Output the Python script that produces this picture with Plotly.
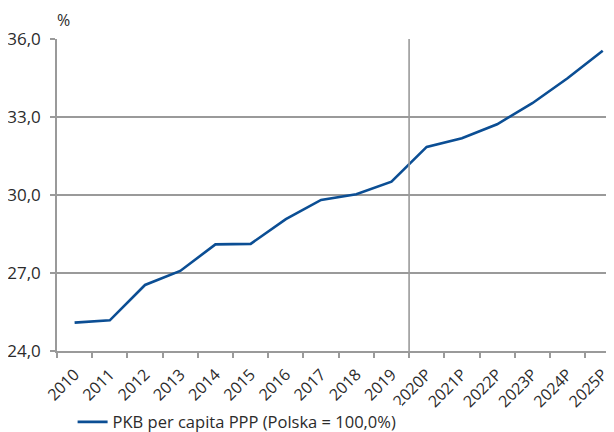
import plotly.graph_objects as go

years = ["2010", "2011", "2012", "2013", "2014", "2015", "2016", "2017",
         "2018", "2019", "2020P", "2021P", "2022P", "2023P", "2024P", "2025P"]
gdp_pc_ppp = [25.09, 25.18, 26.54, 27.08, 28.10, 28.12, 29.07, 29.81,
              30.03, 30.51, 31.85, 32.18, 32.72, 33.53, 34.49, 35.55]
series_name = "PKB per capita PPP (Polska = 100,0%)"
y_ticks = [24.0, 27.0, 30.0, 33.0, 36.0]
y_ticktext = ["24,0", "27,0", "30,0", "33,0", "36,0"]
forecast_start = "2020P"

FONT = "Open Sans"
GRID = "#9a9a9a"
TEXT = "#2b2b2b"

fig = go.Figure()
fig.add_trace(go.Scatter(
    x=years, y=gdp_pc_ppp, mode="lines", name=series_name,
    line=dict(color="#0b4e94", width=2.6),
))

split = years.index(forecast_start) - 0.5
fig.add_shape(type="line", xref="x", yref="y", x0=split, x1=split,
              y0=24.0, y1=36.1, line=dict(color=GRID, width=1.6), layer="above")

fig.add_annotation(text="%", xref="paper", yref="paper", x=0.011, y=1.02,
                   xanchor="center", yanchor="bottom", showarrow=False,
                   font=dict(family=FONT, size=16, color=TEXT))

# page body has an 8px default margin; size the figure to fit the window
fig.update_layout(
    width=606, height=424,
    margin=dict(l=49, r=0, t=31, b=81, autoexpand=False),
    paper_bgcolor="white", plot_bgcolor="white",
    font=dict(family=FONT, size=16, color=TEXT),
    showlegend=True,
    legend=dict(orientation="h", x=0.028, xanchor="left", y=-0.228, yanchor="middle",
                font=dict(family=FONT, size=16.5, color=TEXT),
                itemwidth=30),
    xaxis=dict(
        type="category", range=[-0.5, 15.32], automargin=False,
        tickson="boundaries", ticks="outside", ticklen=5, tickwidth=1.5,
        tickcolor=GRID, tickangle=-45, showgrid=False, ticklabelstandoff=6,
        showline=True, linecolor=GRID, linewidth=1.6,
        tickfont=dict(family=FONT, size=16, color=TEXT),
    ),
    yaxis=dict(
        range=[24, 36], tickvals=y_ticks, ticktext=y_ticktext, automargin=False,
        ticks="outside", ticklen=5, tickwidth=1.5, tickcolor=GRID,
        ticklabelstandoff=6,
        showgrid=True, gridcolor=GRID, gridwidth=1.6,
        showline=True, linecolor=GRID, linewidth=1.6,
        zeroline=False,
        tickfont=dict(family=FONT, size=17, color=TEXT),
    ),
)

fig.write_html("out.html")
